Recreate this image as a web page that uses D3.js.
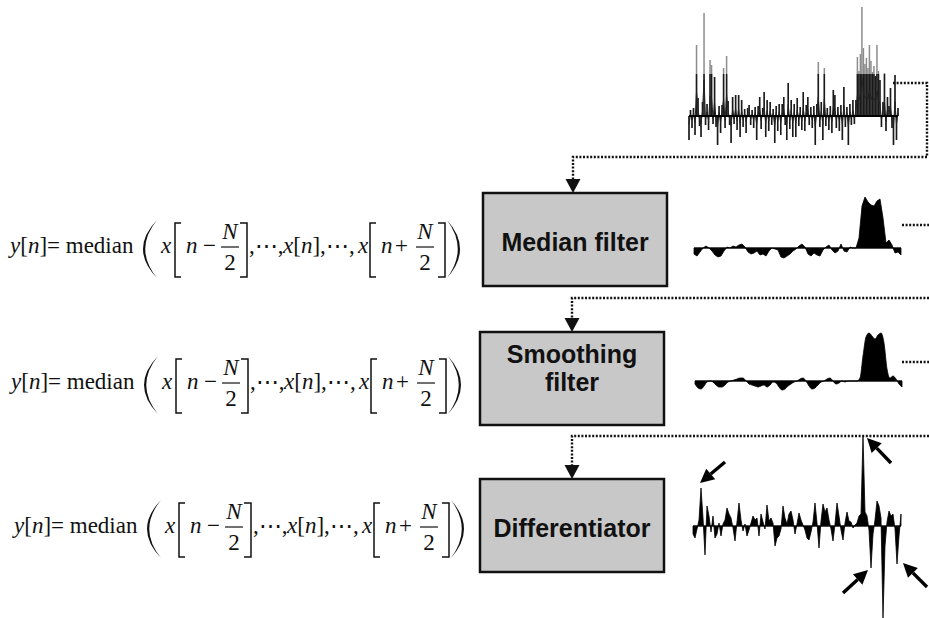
<!DOCTYPE html>
<html>
<head>
<meta charset="utf-8">
<script src="https://d3js.org/d3.v7.min.js"></script>
<style>
  body { margin: 0; background: #fff; }
  svg { display: block; }
</style>
</head>
<body>
<svg id="chart" width="929" height="618"></svg>
<script>
// signal samples, amplitude in arbitrary units (positive = up)
var rawSignal = [-24,6,-12,8,-19,71,18,-10,-21,14,
  103,-9,12,-14,56,51,-8,39,-11,-29,
  10,-17,11,48,-12,60,15,-9,-27,19,
  -8,21,-14,21,-21,16,-11,7,-17,8,
  11,-9,6,-12,9,-24,10,19,-13,8,
  24,-21,16,-15,14,-9,7,-27,10,-15,
  12,-19,12,19,-9,-24,33,-13,16,-21,
  12,-21,18,-10,9,-14,24,-15,11,19,
  -9,9,-12,10,-29,12,54,-11,14,-24,
  48,-10,8,-14,10,-17,26,21,-12,9,
  -15,11,-24,29,-11,9,-29,12,-9,16,
  -8,16,59,45,62,109,68,52,58,48,
  71,55,44,50,40,71,45,36,-11,14,
  43,-15,19,10,28,-12,-29,41,-24,8];

var medianSignal = [-6,-8,-4,0,2,0,-3,-7,-9,-8,
  -3,1,0,2,1,3,4,1,-4,-6,
  -5,-3,-7,-6,-8,-3,0,-1,-2,-9,
  -10,-8,-6,-3,-1,2,4,1,-6,-8,
  -5,-7,-8,-2,1,3,-2,-5,-3,4,
  -3,-4,1,0,0,10,42,51,46,43,
  42,47,49,30,5,8,3,-5,-4,-7];

var smoothSignal = [-3,-7,-8,-5,-1,0,-1,-4,-6,-6,
  -4,-1,0,1,2,3,3,0,-3,-4,
  -5,-6,-5,-4,-6,-4,-1,-2,-6,-9,
  -8,-5,-3,-1,0,2,3,0,-5,-8,
  -7,-4,-1,0,2,3,0,-3,-2,0,
  -1,0,0,0,0,3,25,44,48,45,
  42,46,48,38,12,3,5,2,-3,-6];

var diffSignal = [-8,-12,-3,6,38,8,-29,20,10,-6,
  10,-12,-8,3,-10,2,6,18,12,8,
  -2,-15,4,23,6,-5,2,-10,-4,3,
  10,6,8,-10,12,4,-3,21,5,8,
  3,-20,-12,-10,-3,20,8,2,12,15,
  6,-8,2,13,6,1,-4,-12,-14,-6,
  4,23,3,-22,5,22,14,18,6,-3,
  -15,2,23,10,-4,-14,3,14,5,4,
  -2,1,3,10,12,90,14,10,-4,-42,
  -8,6,25,20,8,-92,-20,4,15,10,
  12,-3,-38,-10,12];

// samples of the differentiated signal pointed at by arrows
var markedSamples = [4, 85, 89, 102];

var stageLabels = [["Median filter"], ["Smoothing", "filter"], ["Differentiator"]];

var svg = d3.select("#chart");
var serif = "'Liberation Serif', 'Times New Roman', serif";

// panel geometry
function panel(n, x0, x1, base) {
    return {
        x: d3.scaleLinear().domain([0, n - 1]).range([x0, x1]),
        y: d3.scaleLinear().domain([-100, 100]).range([base + 100, base - 100])
    };
}

var pRaw = panel(rawSignal.length, 689, 898, 116);
var pMed = panel(medianSignal.length, 694, 901, 248);
var pSmo = panel(smoothSignal.length, 695, 902, 381);
var pDif = panel(diffSignal.length, 693, 901, 526);

// raw EMG-like signal: faint full stems, dark core, thin trace
function stems(maxAmp, colour) {
    svg.append("g")
        .selectAll("line")
        .data(rawSignal)
        .enter().append("line")
        .attr("x1", function(d, i) { return pRaw.x(i); })
        .attr("x2", function(d, i) { return pRaw.x(i); })
        .attr("y1", pRaw.y(0))
        .attr("y2", function(d) { return pRaw.y(Math.max(-maxAmp, Math.min(maxAmp, d))); })
        .attr("stroke", colour)
        .attr("stroke-width", 1.5);
}
stems(200, "#8c8c8c");
stems(42, "#1a1a1a");

svg.append("path").datum(rawSignal)
    .attr("d", d3.line()
        .x(function(d, i) { return pRaw.x(i); })
        .y(function(d) { return pRaw.y(d * 0.35); }))
    .attr("fill", "none")
    .attr("stroke", "#222")
    .attr("stroke-width", 1);

svg.append("line")
    .attr("x1", pRaw.x(0)).attr("x2", pRaw.x(rawSignal.length - 1))
    .attr("y1", pRaw.y(0)).attr("y2", pRaw.y(0))
    .attr("stroke", "#000").attr("stroke-width", 1.8);

function drawArea(data, p, curve) {
    var area = d3.area()
        .x(function(d, i) { return p.x(i); })
        .y0(p.y(0))
        .y1(function(d) { return p.y(d); })
        .curve(curve);
    svg.append("path").datum(data)
        .attr("d", area)
        .attr("fill", "#000")
        .attr("stroke", "#000")
        .attr("stroke-width", 0.8);
    svg.append("line")
        .attr("x1", p.x(0)).attr("x2", p.x(data.length - 1))
        .attr("y1", p.y(0)).attr("y2", p.y(0))
        .attr("stroke", "#000").attr("stroke-width", 1.2);
}

drawArea(medianSignal, pMed, d3.curveLinear);
drawArea(smoothSignal, pSmo, d3.curveMonotoneX);
drawArea(diffSignal, pDif, d3.curveLinear);

// processing boxes
var boxLeft = [483, 480, 480], boxTop = [193, 332, 479];
var boxW = 184, boxH = 93;

var boxes = svg.append("g").selectAll("g")
    .data(stageLabels)
    .enter().append("g");

boxes.append("rect")
    .attr("x", function(d, i) { return boxLeft[i]; })
    .attr("y", function(d, i) { return boxTop[i]; })
    .attr("width", boxW)
    .attr("height", boxH)
    .attr("fill", "#c8c8c8")
    .attr("stroke", "#111")
    .attr("stroke-width", 2.5);

boxes.append("text")
    .attr("text-anchor", "middle")
    .attr("font-family", "'Liberation Sans', Arial, sans-serif")
    .attr("font-weight", "bold")
    .attr("font-size", 25)
    .attr("fill", "#111")
    .each(function(d, i) {
        var t = d3.select(this);
        var cx = boxLeft[i] + boxW / 2, cy = boxTop[i] + boxH / 2;
        var first = d.length == 1 ? cy + 11 : cy - 16;
        d.forEach(function(line, j) {
            t.append("tspan").attr("x", cx).attr("y", first + j * 28).text(line);
        });
    });

// dotted connectors
var connectors = [
    [[893, 83], [927, 83], [927, 157], [573, 157], [573, 180]],
    [[929, 298], [572, 298], [572, 319]],
    [[929, 436], [572, 436], [572, 466]],
    [[902, 225], [929, 225]],
    [[902, 362], [929, 362]]
];
var heads = [[573, 193], [572, 332], [572, 479]];

svg.append("g").selectAll("path")
    .data(connectors)
    .enter().append("path")
    .attr("d", d3.line())
    .attr("fill", "none")
    .attr("stroke", "#111")
    .attr("stroke-width", 2.4)
    .attr("stroke-dasharray", "2 1.6");

svg.append("g").selectAll("path")
    .data(heads)
    .enter().append("path")
    .attr("d", function(d) {
        return "M" + d[0] + "," + d[1] + "L" + (d[0] - 7.5) + "," + (d[1] - 14) + "L" + (d[0] + 7.5) + "," + (d[1] - 14) + "Z";
    })
    .attr("fill", "#111");

// arrows pointing at the detected onsets / offsets
var arrowDir = [[25, -21], [24, 25], [-25, 23], [24, 24]];
var arrowNudge = [[-1, -5], [4, 2], [-3, 2], [6, -1]];

var arrows = svg.append("g").selectAll("g")
    .data(markedSamples)
    .enter().append("g");

arrows.each(function(s, i) {
    var tx = pDif.x(s) + arrowNudge[i][0], ty = pDif.y(diffSignal[s]) + arrowNudge[i][1];
    var dx = arrowDir[i][0], dy = arrowDir[i][1];
    var len = Math.sqrt(dx * dx + dy * dy), ux = dx / len, uy = dy / len;
    var bx = tx + ux * 14, by = ty + uy * 14;
    var g = d3.select(this);
    g.append("line")
        .attr("x1", bx).attr("y1", by)
        .attr("x2", tx + dx).attr("y2", ty + dy)
        .attr("stroke", "#000").attr("stroke-width", 3.4);
    g.append("path")
        .attr("d", "M" + tx + "," + ty +
            "L" + (bx - uy * 7) + "," + (by + ux * 7) +
            "L" + (bx + uy * 7) + "," + (by - ux * 7) + "Z")
        .attr("fill", "#000");
});

// formulas
var formulaOrigin = [[0, 247], [1, 383], [4, 527]];

function parenPath(x0, x1, top, bottom, left) {
    var mid = (top + bottom) / 2;
    if (left) {
        return "M" + x1 + "," + top + "Q" + (2 * x0 - x1) + "," + mid + " " + x1 + "," + bottom +
            "Q" + (2 * x0 - x1 + 4.5) + "," + mid + " " + x1 + "," + top + "Z";
    }
    return "M" + x0 + "," + top + "Q" + (2 * x1 - x0) + "," + mid + " " + x0 + "," + bottom +
        "Q" + (2 * x1 - x0 - 4.5) + "," + mid + " " + x0 + "," + top + "Z";
}

function bracketPath(x0, x1, top, bottom, left) {
    if (left) return "M" + x1 + "," + top + "H" + x0 + "V" + bottom + "H" + x1;
    return "M" + x0 + "," + top + "H" + x1 + "V" + bottom + "H" + x0;
}

formulaOrigin.forEach(function(o) {
    var ox = o[0], a = o[1];
    var g = svg.append("g")
        .attr("font-family", serif)
        .attr("font-size", 23)
        .attr("fill", "#111");

    function txt(x, y, parts, anchor) {
        var t = g.append("text").attr("x", x).attr("y", y)
            .attr("text-anchor", anchor || "start");
        parts.forEach(function(p) {
            var s = t.append("tspan").text(p[0]);
            if (p[1]) s.attr("font-style", "italic");
        });
    }

    txt(ox + 10, a + 6, [["y", 1], ["["], ["n", 1], ["]= median"]]);
    g.append("path").attr("d", parenPath(ox + 143, ox + 157, a - 27, a + 31, true));
    txt(ox + 161, a + 6, [["x", 1]]);
    g.append("path").attr("d", bracketPath(ox + 175, ox + 181, a - 24, a + 30, true))
        .attr("fill", "none").attr("stroke", "#111").attr("stroke-width", 1.5);
    txt(ox + 186, a + 6, [["n", 1]]);
    txt(ox + 203, a + 6, [["\u2212"]]);
    txt(ox + 230, a - 8, [["N", 1]], "middle");
    g.append("line").attr("x1", ox + 221).attr("x2", ox + 239).attr("y1", a).attr("y2", a)
        .attr("stroke", "#111").attr("stroke-width", 1.2);
    txt(ox + 230, a + 23, [["2"]], "middle");
    g.append("path").attr("d", bracketPath(ox + 240, ox + 247, a - 24, a + 30, false))
        .attr("fill", "none").attr("stroke", "#111").attr("stroke-width", 1.5);
    txt(ox + 249, a + 6, [[",\u22EF,"]]);
    txt(ox + 283, a + 6, [["x", 1], ["["], ["n", 1], ["],"]]);
    txt(ox + 326, a + 6, [["\u22EF,"]]);
    txt(ox + 358, a + 6, [["x", 1]]);
    g.append("path").attr("d", bracketPath(ox + 370, ox + 376, a - 24, a + 30, true))
        .attr("fill", "none").attr("stroke", "#111").attr("stroke-width", 1.5);
    txt(ox + 381, a + 6, [["n", 1]]);
    txt(ox + 395, a + 6, [["+"]]);
    txt(ox + 425, a - 8, [["N", 1]], "middle");
    g.append("line").attr("x1", ox + 416).attr("x2", ox + 434).attr("y1", a).attr("y2", a)
        .attr("stroke", "#111").attr("stroke-width", 1.2);
    txt(ox + 425, a + 23, [["2"]], "middle");
    g.append("path").attr("d", bracketPath(ox + 438, ox + 445, a - 24, a + 30, false))
        .attr("fill", "none").attr("stroke", "#111").attr("stroke-width", 1.5);
    g.append("path").attr("d", parenPath(ox + 447, ox + 460, a - 27, a + 31, false));
});
</script>
</body>
</html>
